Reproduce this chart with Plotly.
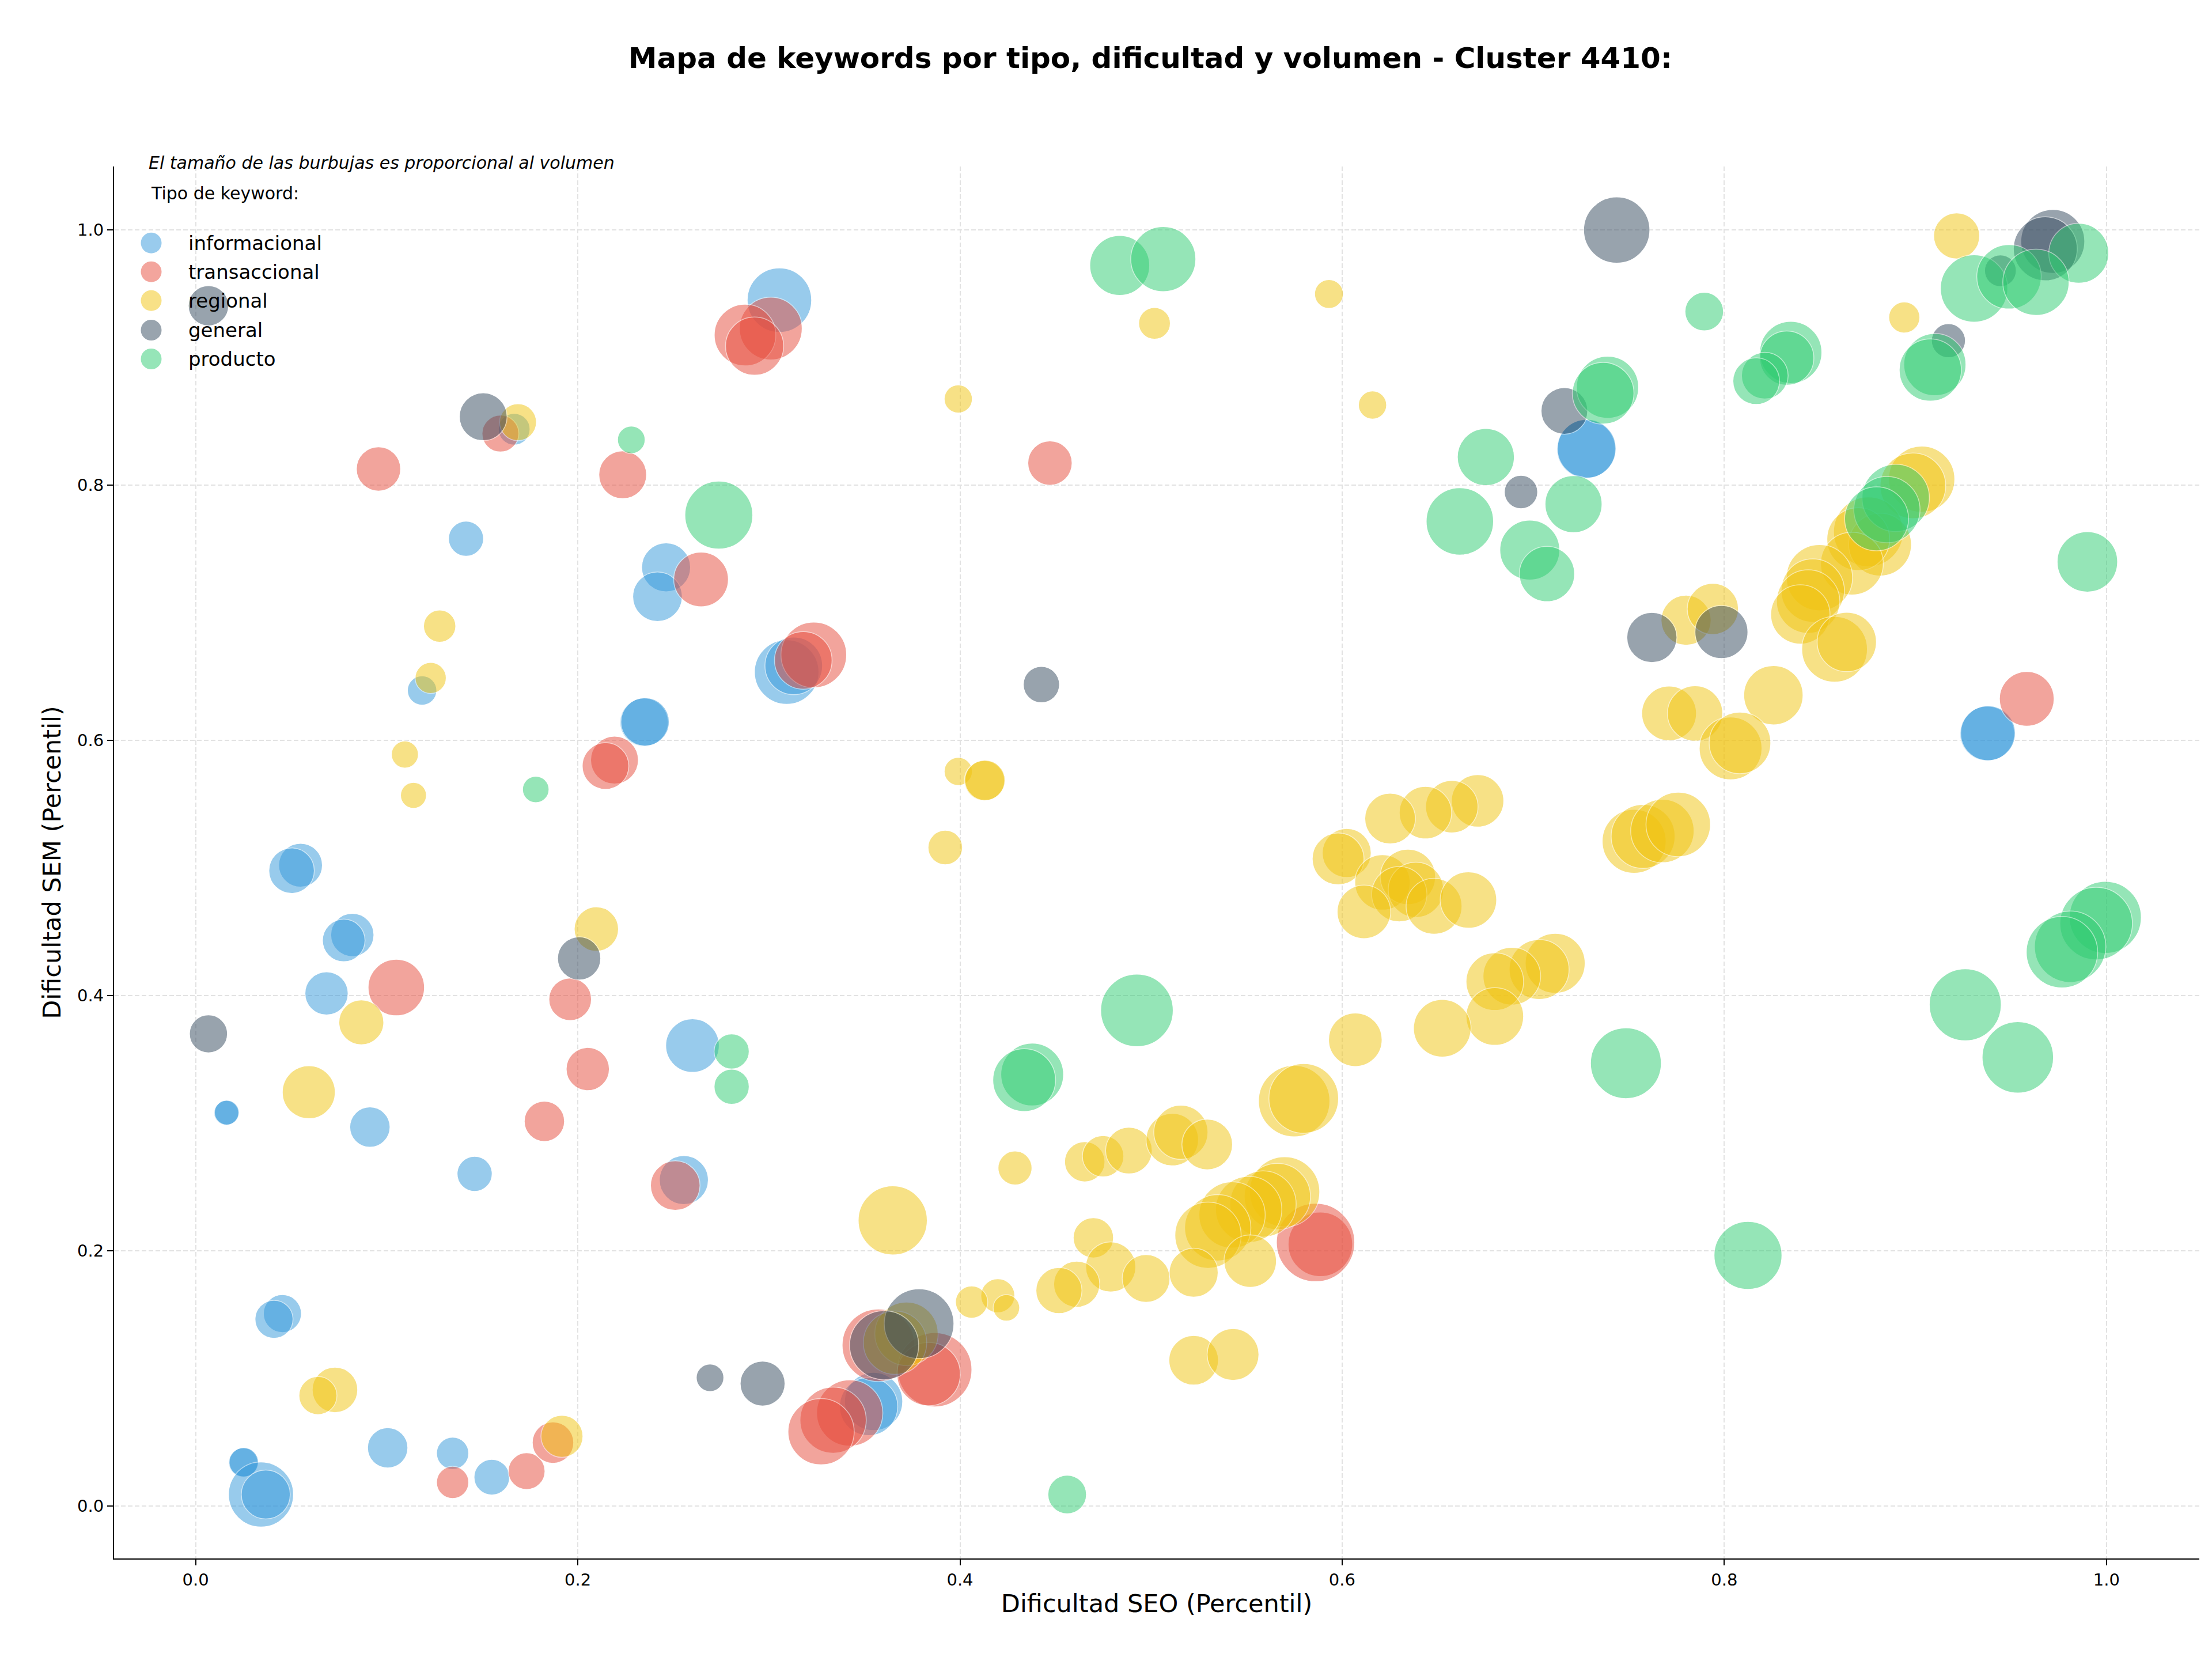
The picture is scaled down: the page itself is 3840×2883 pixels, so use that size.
import numpy as np
import plotly.graph_objects as go

# ---------------- data ----------------
categorias = ["informacional", "transaccional", "regional", "general", "producto"]
colores = {"informacional": "#3498db", "transaccional": "#e74c3c", "regional": "#f1c40f",
           "general": "#34495e", "producto": "#2ecc71"}

x_informacional = [0.3055,0.1667,0.1415,0.2462,0.2417,0.1185,0.3093,0.3130,0.2347,0.2352,0.0549,0.0502,0.0820,0.0775,0.0685,0.0160,0.0163,0.0912,0.1460,0.2600,0.2555,0.0454,0.0410,0.1005,0.0249,0.0252,0.0342,0.0367,0.1345,0.1550,0.3548,0.3522,0.7277,0.7280,0.9376,0.9380]
y_informacional = [0.945,0.8438,0.758,0.7356,0.7126,0.6391,0.6535,0.6584,0.6142,0.6145,0.5022,0.4979,0.4475,0.4432,0.4017,0.3081,0.3083,0.2969,0.2603,0.3608,0.2554,0.1508,0.1463,0.0456,0.0341,0.0343,0.009,0.009,0.0413,0.0226,0.0819,0.078,0.8283,0.8286,0.6053,0.6056]
vol_informacional = [1254,303,372,723,740,260,1254,1000,706,706,578,624,563,548,563,185,185,490,372,865,723,436,436,490,260,260,1277,723,314,384,1020,1020,1040,1040,903,903]

x_transaccional = [0.3010,0.2875,0.2925,0.1595,0.0957,0.2235,0.2645,0.3235,0.3180,0.4471,0.2192,0.2145,0.1050,0.1960,0.2052,0.1825,0.2510,0.1345,0.1732,0.1870,0.3573,0.3868,0.3836,0.3423,0.3336,0.3273,0.5886,0.5861,0.9583]
y_transaccional = [0.9227,0.9176,0.9089,0.8404,0.8127,0.8081,0.7261,0.6670,0.6627,0.8173,0.5845,0.5799,0.4063,0.3971,0.3424,0.3015,0.2511,0.0185,0.0273,0.0497,0.1260,0.1068,0.1034,0.0729,0.0673,0.0582,0.2051,0.2065,0.6325]
vol_transaccional = [1188,1145,1020,410,593,689,903,1300,1000,593,689,656,960,548,563,490,740,314,410,518,1588,1664,1210,1323,1323,1323,1254,1850,903]

x_regional = [0.1687,0.1277,0.1230,0.1095,0.1140,0.0867,0.2097,0.0592,0.0729,0.0640,0.1917,
              0.5931,0.5018,0.3991,0.6159,0.9216,0.8942,
              0.9033,0.8987,0.8754,0.8815,0.8701,0.8668,0.8498,0.8463,0.8439,0.8398,0.8577,0.8641,
              0.7800,0.7940,0.8257,0.7711,0.7847,0.8033,0.8082,
              0.7528,0.7575,0.7676,0.7759,
              0.7115,0.7031,0.6888,0.6799,0.6799,0.6524,0.6069,
              0.3991,0.4128,0.4131,0.3923,
              0.6709,0.6574,0.6436,0.6251,0.6024,0.5979,0.6211,0.6344,0.6386,0.6299,0.6481,0.6661,0.6114,
              0.5749,0.5799,0.3648,
              0.4288,0.4653,0.4749,0.4884,0.5111,0.5156,0.5294,
              0.5699,0.5661,0.5586,0.5511,0.5424,0.5349,0.5298,0.5519,
              0.4698,0.4789,0.4974,0.5223,0.4611,0.4518,0.4198,0.4243,0.4061,
              0.5223,0.5429,0.3720,0.3660]
y_regional = [0.8493,0.6895,0.6489,0.5889,0.5569,0.3790,0.4521,0.3243,0.0910,0.0865,0.0546,
              0.9498,0.9268,0.8675,0.8628,0.9953,0.9314,
              0.8047,0.7995,0.7635,0.7534,0.7577,0.7385,0.7275,0.7174,0.7088,0.6987,0.6714,0.6771,
              0.6941,0.7030,0.6354,0.6211,0.6211,0.5937,0.5980,
              0.5209,0.5247,0.5290,0.5341,
              0.4253,0.4204,0.4152,0.4109,0.3836,0.3744,0.3654,
              0.5756,0.5684,0.5687,0.5160,
              0.5526,0.5480,0.5433,0.5387,0.5117,0.5071,0.4887,0.4930,0.4829,0.4795,0.4700,0.4749,0.4656,
              0.3173,0.3194,0.2238,
              0.2649,0.2698,0.2741,0.2785,0.2871,0.2929,0.2833,
              0.2462,0.2425,0.2367,0.2324,0.2281,0.2180,0.2122,0.1919,
              0.2102,0.1874,0.1783,0.1828,0.1738,0.1688,0.1648,0.1553,0.1598,
              0.1142,0.1187,0.1350,0.1280]
vol_regional = [410,314,292,221,203,608,593,846,624,436,533,
                250,303,240,240,640,292,
                1323,1300,1464,1188,1188,1188,1323,1210,1210,1061,1300,1061,
                757,792,1061,903,922,1188,1145,
                1232,1232,1210,1254,
                1082,1082,1000,1000,1000,1000,865,
                240,490,490,360,
                828,828,828,774,723,810,922,922,922,922,941,960,865,
                1538,1464,1440,
                348,490,518,656,828,884,774,
                1488,1323,1323,1323,1323,1323,1323,828,
                490,757,689,723,640,640,348,212,314,
                740,810,1210,1210]

x_general = [0.0067,0.1505,0.4426,0.6936,0.7437,0.9719,0.9680,0.9445,0.9173,0.7163,0.7621,0.7985,0.0067,0.2007,0.2692,0.2967,0.3786,0.3603]
y_general = [0.9406,0.8536,0.6437,0.7946,0.9999,0.9910,0.9852,0.9680,0.9132,0.8582,0.6806,0.6849,0.3700,0.4291,0.1005,0.0959,0.1429,0.1260]
vol_general = [490,689,397,336,1323,1232,1232,303,348,656,757,846,436,563,230,608,1464,1440]

x_producto = [0.2280,0.2738,0.1780,0.2805,0.2805,0.4836,0.5064,0.6752,0.6616,0.6982,0.7072,0.7211,0.9855,0.9307,0.9490,0.9631,0.9102,0.9078,0.7895,0.8348,0.8327,0.8212,0.8167,0.7389,0.7366,0.8897,0.8851,0.8797,0.9900,0.4926,0.4378,0.4336,0.7485,0.8124,0.4561,0.9994,0.9946,0.9810,0.9767,0.9261,0.9536]
y_producto = [0.8355,0.7765,0.5615,0.3562,0.3286,0.9722,0.9771,0.8220,0.7716,0.7491,0.7304,0.7851,0.9817,0.9541,0.9633,0.9590,0.8945,0.8902,0.9360,0.9040,0.8996,0.8858,0.8815,0.8767,0.8720,0.7900,0.7808,0.7736,0.7399,0.3884,0.3381,0.3338,0.3470,0.1964,0.0090,0.4613,0.4564,0.4383,0.4340,0.3928,0.3516]
vol_producto = [230,1392,212,372,372,1082,1277,980,1369,1082,922,980,1082,1369,1254,1323,1166,1166,449,1166,884,656,656,1166,1145,1369,1323,1232,1103,1588,1188,1188,1513,1392,449,1563,1588,1538,1538,1563,1538]

series = {
    "informacional": (x_informacional, y_informacional, vol_informacional),
    "transaccional": (x_transaccional, y_transaccional, vol_transaccional),
    "regional": (x_regional, y_regional, vol_regional),
    "general": (x_general, y_general, vol_general),
    "producto": (x_producto, y_producto, vol_producto),
}

titulo = "Mapa de keywords por tipo, dificultad y volumen - Cluster 4410:"
nota = "El tamaño de las burbujas es proporcional al volumen"
titulo_leyenda = "Tipo de keyword:"
x_label = "Dificultad SEO (Percentil)"
y_label = "Dificultad SEM (Percentil)"
ticks = [0.0, 0.2, 0.4, 0.6, 0.8, 1.0]

# ---------------- figure ----------------
FONT = "DejaVu Sans"
fig = go.Figure()

def bubble_size(vol):
    # bubble area proportional to volume
    return np.sqrt(np.asarray(vol, dtype=float) * 10.0)

for cat in categorias:
    xs, ys, vs = series[cat]
    fig.add_trace(go.Scatter(
        x=xs, y=ys, mode="markers", name=cat,
        marker=dict(size=bubble_size(vs), sizemode="diameter", color=colores[cat],
                    opacity=0.5, line=dict(color="white", width=1.5)),
        showlegend=False, hoverinfo="skip"))

W, H = 3840, 2883
ML, MR, MT, MB = 198, 22, 289, 178
PW, PH = W - ML - MR, H - MT - MB

def px_to_paper(X, Y):
    return (X - ML) / PW, (H - MB - Y) / PH

shapes = []
annotations = []
# legend (manual, matplotlib-like)
leg_y = [421.7, 471.7, 521.7, 573.0, 623.0]
for cat, yy in zip(categorias, leg_y):
    px_, py_ = px_to_paper(262.5, yy)
    shapes.append(dict(type="circle", xref="paper", yref="paper", xsizemode="pixel", ysizemode="pixel",
                       xanchor=px_, yanchor=py_, x0=-18, x1=18, y0=-18, y1=18,
                       fillcolor=colores[cat], opacity=0.5, line=dict(width=0)))
    tx, ty = px_to_paper(325, yy)
    annotations.append(dict(text=cat, xref="paper", yref="paper", x=tx, y=ty, xanchor="left",
                            yanchor="middle", showarrow=False, font=dict(family=FONT, size=34, color="black")))
tx, ty = px_to_paper(260, 335)
annotations.append(dict(text=titulo_leyenda, xref="paper", yref="paper", x=tx, y=ty, xanchor="left",
                        yanchor="middle", showarrow=False, font=dict(family=FONT, size=30, color="black")))
tx, ty = px_to_paper(256, 282)
annotations.append(dict(text=nota, xref="paper", yref="paper", x=tx, y=ty, xanchor="left",
                        yanchor="middle", showarrow=False,
                        font=dict(family=FONT, size=30, color="black", style="italic")))

axis_common = dict(
    showline=True, linecolor="black", linewidth=2.2, mirror=False,
    ticks="outside", ticklen=10, tickwidth=2, tickcolor="black",
    showgrid=True, gridcolor="#e2e2e2", gridwidth=2, griddash="8px,4px",
    zeroline=False, tickvals=ticks, tickformat=".1f",
    tickfont=dict(family=FONT, size=29, color="black"),
)

fig.update_layout(
    width=W, height=H,
    margin=dict(l=ML, r=MR, t=MT, b=MB),
    paper_bgcolor="white", plot_bgcolor="white",
    font=dict(family=FONT, color="black"),
    title=dict(text=titulo, x=0.52, xref="container", xanchor="center",
               y=1 - 100 / H, yref="container", yanchor="middle",
               font=dict(family=FONT, size=50, color="black", weight="bold")),
    xaxis=dict(range=[-0.0427, 1.0486],
               title=dict(text=x_label, font=dict(family=FONT, size=43, color="black"), standoff=10),
               **axis_common),
    yaxis=dict(range=[-0.0411, 1.0497],
               title=dict(text=y_label, font=dict(family=FONT, size=43, color="black"), standoff=15),
               **axis_common),
    shapes=shapes,
    annotations=annotations,
    showlegend=False,
)

fig.write_html("out.html")
